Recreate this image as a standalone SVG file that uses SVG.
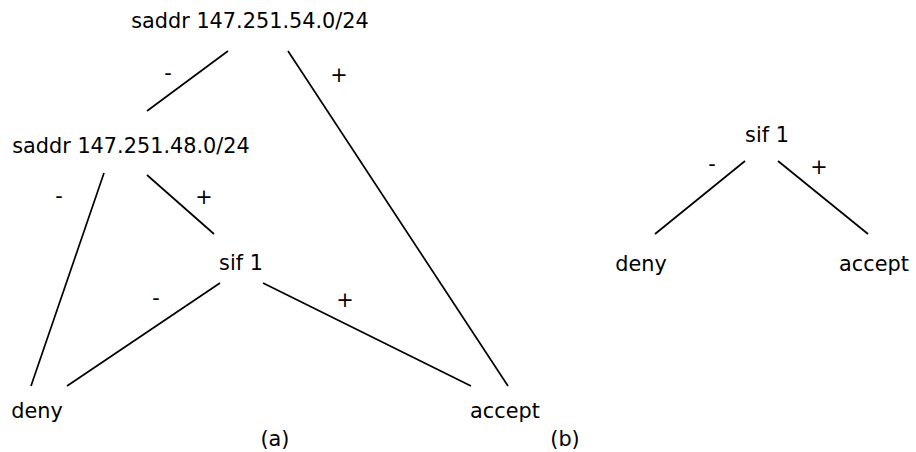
<svg xmlns="http://www.w3.org/2000/svg" width="916" height="452" viewBox="0 0 916 452">
<style>
text{font-family:"DejaVu Sans","Liberation Sans",sans-serif;font-size:20.8px;fill:#000;text-anchor:middle}
.e line{stroke:#000;stroke-width:1.7;stroke-linecap:butt}
</style>
<rect width="916" height="452" fill="#fff"/>
<g class="e" id="connectors">
<line x1="228" y1="51" x2="147" y2="111"/>
<line x1="288" y1="51" x2="508" y2="386"/>
<line x1="104" y1="173" x2="31" y2="386"/>
<line x1="147" y1="175" x2="214" y2="234"/>
<line x1="220" y1="283" x2="67" y2="386"/>
<line x1="263" y1="283" x2="471" y2="386"/>
<line x1="745" y1="161" x2="655" y2="234"/>
<line x1="778" y1="161" x2="868" y2="234"/>
<text x="168" y="80">-</text>
<text x="339" y="82">+</text>
<text x="59" y="203">-</text>
<text x="204" y="204">+</text>
<text x="156" y="305">-</text>
<text x="345" y="307">+</text>
<text x="712" y="171">-</text>
<text x="819" y="174">+</text>
</g>
<g id="n1"><text x="250" y="28">saddr 147.251.54.0/24</text></g>
<g id="n2"><text x="131" y="153">saddr 147.251.48.0/24</text></g>
<g id="n3"><text x="241" y="270">sif 1</text></g>
<g id="n4"><text x="37" y="418">deny</text></g>
<g id="n5"><text x="505" y="418">accept</text></g>
<g id="cap-a"><text x="275" y="446">(a)</text></g>
<g id="n6"><text x="767" y="142">sif 1</text></g>
<g id="n7"><text x="641" y="271">deny</text></g>
<g id="n8"><text x="874" y="271">accept</text></g>
<g id="cap-b"><text x="565" y="446">(b)</text></g>
</svg>
